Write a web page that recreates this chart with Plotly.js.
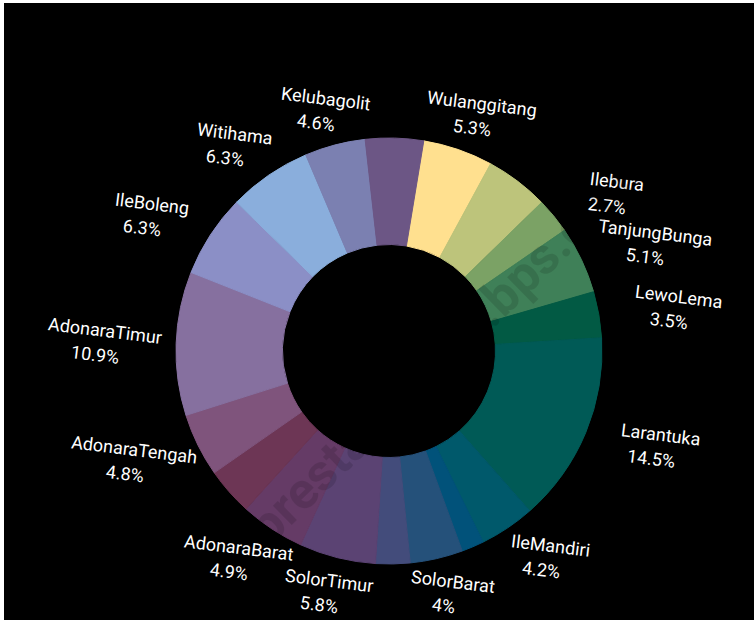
<!DOCTYPE html>
<html>
<head>
<meta charset="utf-8">
<script src="https://cdn.plot.ly/plotly-3.0.1.min.js"></script>
<style>
  html, body { margin: 0; padding: 0; background: #ffffff; width: 754px; height: 620px; overflow: hidden; }
  #chart { position: absolute; left: 4px; top: 3px; width: 750px; height: 617px; background: #000000; }
</style>
</head>
<body>
<div id="chart"></div>
<script>
// ---- data (clockwise, starting with Wulanggitang) ----
const kecamatan = ["Wulanggitang", "Titehena", "Ilebura", "TanjungBunga", "LewoLema", "Larantuka",
  "IleMandiri", "DemonPagong", "SolorBarat", "SolorSelatan", "SolorTimur", "AdonaraBarat",
  "WotanUlumado", "AdonaraTengah", "AdonaraTimur", "IleBoleng", "Witihama", "Kelubagolit", "Adonara"];
const persen = [5.3, 4.8, 2.7, 5.1, 3.5, 14.5, 4.2, 1.7, 4, 2.6, 5.8, 4.9, 3.6, 4.8, 10.9, 6.3, 6.3, 4.6, 4.4];
const labelTersembunyi = ["Titehena", "DemonPagong", "SolorSelatan", "WotanUlumado", "Adonara"];
const watermarkText = "prestasi.apps.bps.go.id";

// ---- styles ----
const sliceColors = ["#ffe08f", "#bdc47b", "#7ba265", "#3f8058", "#025a44", "#005a56",
  "#00596b", "#01527a", "#25517a", "#434c7b", "#5b4373", "#653b66",
  "#6d3655", "#7f547c", "#86709f", "#8b8fc6", "#8aaedc", "#7b80b1", "#6c5685"];

const W = 750, H = 617;
const CX = 385, CY = 348, R = 213;
const LABEL_RX = 289, LABEL_RY = 249;
const ROT = 9.4;
const FONT = "Roboto", FSIZE = 18;

const canvas = document.createElement("canvas");
const ctx = canvas.getContext("2d");
function textW(t, font) { ctx.font = font; return ctx.measureText(t).width; }

const total = persen.reduce((a, b) => a + b, 0);
const annotations = [];
function addText(txt, px, py, angle, font) {
  annotations.push({
    xref: "paper", yref: "paper", x: px / W, y: 1 - py / H,
    xanchor: "center", yanchor: "middle",
    text: txt, showarrow: false, textangle: angle, font: font
  });
}
let cum = 0;
persen.forEach((v, i) => {
  const mid = ROT + (cum + v / 2) / total * 360;
  cum += v;
  if (labelTersembunyi.includes(kecamatan[i])) return;
  const th = mid * Math.PI / 180;
  const s = Math.sin(th), c = Math.cos(th);
  const rx = LABEL_RX - 30 * Math.pow(c, 8);
  const x = CX + rx * s, y = CY - LABEL_RY * c;
  const f = { family: FONT, size: FSIZE, color: "#ffffff" };
  addText(kecamatan[i], x + 5, y - 12, 7, f);
  addText(String(v) + "%", x - 5, y + 12, 7, f);
});

// watermark (faint, diagonal)
(function () {
  const ang = 44.3 * Math.PI / 180;
  const dx = Math.cos(ang), dy = -Math.sin(ang);
  const eC = [297, 489];
  const bC = [498, 293];
  const dist = Math.hypot(bC[0] - eC[0], bC[1] - eC[1]);
  const f0 = "bold 44px " + FONT;
  const between = textW("e", f0) / 2 + textW("stasi.apps.", f0) + textW("b", f0) / 2;
  const fs = 44 * dist / between;
  const wf = "bold " + fs + "px " + FONT;
  const pre = textW("pr", wf) + textW("e", wf) / 2;
  const full = textW(watermarkText, wf);
  const off = full / 2 - pre;
  addText(watermarkText, eC[0] + dx * off, eC[1] + dy * off, -44.3,
    { family: FONT, size: fs, weight: "bold", color: "rgba(0,0,0,0.12)" });
})();

const trace = {
  type: "pie",
  labels: kecamatan,
  values: persen,
  hole: 0.5,
  sort: false,
  direction: "clockwise",
  rotation: ROT,
  textinfo: "none",
  hoverinfo: "label+percent",
  marker: { colors: sliceColors, line: { color: sliceColors, width: 1 } },
  domain: { x: [(CX - R) / W, (CX + R) / W], y: [(H - CY - R) / H, (H - CY + R) / H] },
  showlegend: false
};

const layout = {
  width: W, height: H,
  margin: { l: 0, r: 0, t: 0, b: 0 },
  paper_bgcolor: "#000000",
  plot_bgcolor: "#000000",
  showlegend: false,
  annotations: annotations
};

Plotly.newPlot("chart", [trace], layout, { displayModeBar: false, staticPlot: true });
</script>
</body>
</html>
